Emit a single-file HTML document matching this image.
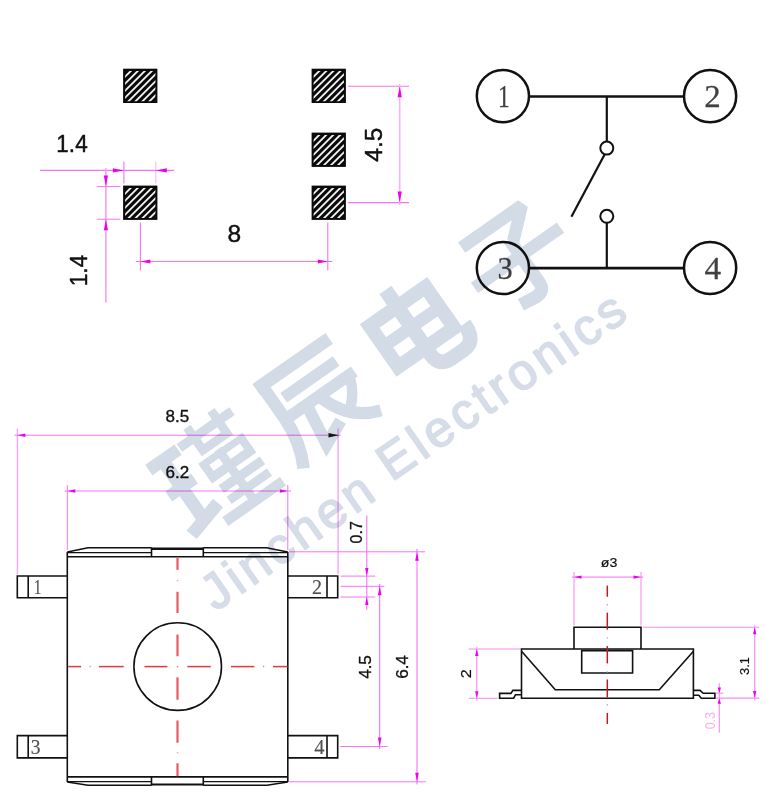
<!DOCTYPE html>
<html><head><meta charset="utf-8"><title>drawing</title>
<style>
html,body{margin:0;padding:0;background:#fff;}
body{width:772px;height:809px;overflow:hidden;font-family:"Liberation Sans",sans-serif;}
svg{display:block;will-change:transform}
</style></head><body>
<svg width="772" height="809" viewBox="0 0 772 809">
<rect width="772" height="809" fill="#fff"/>
<clipPath id="cp1"><rect x="125.1" y="71.10000000000001" width="30.299999999999997" height="30.099999999999998"/></clipPath>
<rect x="123.1" y="68.7" width="34.3" height="34.3" fill="#0a0a0a"/>
<g clip-path="url(#cp1)" stroke="#f4f4f4" stroke-width="1.85">
<line x1="121.10" y1="80.70" x2="159.40" y2="42.40"/>
<line x1="121.10" y1="87.70" x2="159.40" y2="49.40"/>
<line x1="121.10" y1="94.70" x2="159.40" y2="56.40"/>
<line x1="121.10" y1="101.70" x2="159.40" y2="63.40"/>
<line x1="121.10" y1="108.70" x2="159.40" y2="70.40"/>
<line x1="121.10" y1="115.70" x2="159.40" y2="77.40"/>
<line x1="121.10" y1="122.70" x2="159.40" y2="84.40"/>
<line x1="121.10" y1="129.70" x2="159.40" y2="91.40"/>
<line x1="121.10" y1="136.70" x2="159.40" y2="98.40"/>
</g>
<clipPath id="cp2"><rect x="125.1" y="188.0" width="30.299999999999997" height="30.099999999999998"/></clipPath>
<rect x="123.1" y="185.6" width="34.3" height="34.3" fill="#0a0a0a"/>
<g clip-path="url(#cp2)" stroke="#f4f4f4" stroke-width="1.85">
<line x1="121.10" y1="197.60" x2="159.40" y2="159.30"/>
<line x1="121.10" y1="204.60" x2="159.40" y2="166.30"/>
<line x1="121.10" y1="211.60" x2="159.40" y2="173.30"/>
<line x1="121.10" y1="218.60" x2="159.40" y2="180.30"/>
<line x1="121.10" y1="225.60" x2="159.40" y2="187.30"/>
<line x1="121.10" y1="232.60" x2="159.40" y2="194.30"/>
<line x1="121.10" y1="239.60" x2="159.40" y2="201.30"/>
<line x1="121.10" y1="246.60" x2="159.40" y2="208.30"/>
<line x1="121.10" y1="253.60" x2="159.40" y2="215.30"/>
</g>
<clipPath id="cp3"><rect x="313.6" y="71.10000000000001" width="30.299999999999997" height="30.099999999999998"/></clipPath>
<rect x="311.6" y="68.7" width="34.3" height="34.3" fill="#0a0a0a"/>
<g clip-path="url(#cp3)" stroke="#f4f4f4" stroke-width="1.85">
<line x1="309.60" y1="80.70" x2="347.90" y2="42.40"/>
<line x1="309.60" y1="87.70" x2="347.90" y2="49.40"/>
<line x1="309.60" y1="94.70" x2="347.90" y2="56.40"/>
<line x1="309.60" y1="101.70" x2="347.90" y2="63.40"/>
<line x1="309.60" y1="108.70" x2="347.90" y2="70.40"/>
<line x1="309.60" y1="115.70" x2="347.90" y2="77.40"/>
<line x1="309.60" y1="122.70" x2="347.90" y2="84.40"/>
<line x1="309.60" y1="129.70" x2="347.90" y2="91.40"/>
<line x1="309.60" y1="136.70" x2="347.90" y2="98.40"/>
</g>
<clipPath id="cp4"><rect x="313.6" y="135.0" width="30.299999999999997" height="30.099999999999998"/></clipPath>
<rect x="311.6" y="132.6" width="34.3" height="34.3" fill="#0a0a0a"/>
<g clip-path="url(#cp4)" stroke="#f4f4f4" stroke-width="1.85">
<line x1="309.60" y1="144.60" x2="347.90" y2="106.30"/>
<line x1="309.60" y1="151.60" x2="347.90" y2="113.30"/>
<line x1="309.60" y1="158.60" x2="347.90" y2="120.30"/>
<line x1="309.60" y1="165.60" x2="347.90" y2="127.30"/>
<line x1="309.60" y1="172.60" x2="347.90" y2="134.30"/>
<line x1="309.60" y1="179.60" x2="347.90" y2="141.30"/>
<line x1="309.60" y1="186.60" x2="347.90" y2="148.30"/>
<line x1="309.60" y1="193.60" x2="347.90" y2="155.30"/>
<line x1="309.60" y1="200.60" x2="347.90" y2="162.30"/>
</g>
<clipPath id="cp5"><rect x="313.6" y="188.0" width="30.299999999999997" height="30.099999999999998"/></clipPath>
<rect x="311.6" y="185.6" width="34.3" height="34.3" fill="#0a0a0a"/>
<g clip-path="url(#cp5)" stroke="#f4f4f4" stroke-width="1.85">
<line x1="309.60" y1="197.60" x2="347.90" y2="159.30"/>
<line x1="309.60" y1="204.60" x2="347.90" y2="166.30"/>
<line x1="309.60" y1="211.60" x2="347.90" y2="173.30"/>
<line x1="309.60" y1="218.60" x2="347.90" y2="180.30"/>
<line x1="309.60" y1="225.60" x2="347.90" y2="187.30"/>
<line x1="309.60" y1="232.60" x2="347.90" y2="194.30"/>
<line x1="309.60" y1="239.60" x2="347.90" y2="201.30"/>
<line x1="309.60" y1="246.60" x2="347.90" y2="208.30"/>
<line x1="309.60" y1="253.60" x2="347.90" y2="215.30"/>
</g>
<line x1="40" y1="170.4" x2="174" y2="170.4" stroke="#f472f4" stroke-width="1.1" />
<line x1="123.9" y1="161.5" x2="123.9" y2="183.5" stroke="#f472f4" stroke-width="1.1" />
<line x1="155.8" y1="161.5" x2="155.8" y2="183.5" stroke="#f472f4" stroke-width="1.0" opacity="0.55"/>
<polygon points="123.9,170.4 112.9,168.3 112.9,172.5" fill="#ee00ee"/>
<polygon points="155.8,170.4 166.8,168.3 166.8,172.5" fill="#ee00ee"/>
<text x="0" y="0" font-family="Liberation Sans" font-size="24.5" fill="#111" stroke="#111" stroke-width="0.45" stroke-linejoin="round" text-anchor="middle" transform="translate(72 152.3) scale(0.92 1)" >1.4</text>
<line x1="105.9" y1="168.3" x2="105.9" y2="302.4" stroke="#f59af5" stroke-width="1.5" />
<line x1="96.8" y1="186.6" x2="120.4" y2="186.6" stroke="#f472f4" stroke-width="1.0" />
<line x1="96.8" y1="219.2" x2="120.4" y2="219.2" stroke="#f472f4" stroke-width="1.0" />
<polygon points="105.9,186.6 103.80000000000001,175.6 108.0,175.6" fill="#ee00ee"/>
<polygon points="105.9,219.2 103.80000000000001,230.2 108.0,230.2" fill="#ee00ee"/>
<text x="0" y="0" font-family="Liberation Sans" font-size="24.5" fill="#111" stroke="#111" stroke-width="0.45" stroke-linejoin="round" text-anchor="middle" transform="translate(87.4 270.5) rotate(-90) scale(0.92 1)" >1.4</text>
<line x1="140.4" y1="222.5" x2="140.4" y2="270.4" stroke="#f472f4" stroke-width="1.1" />
<line x1="327.8" y1="222.5" x2="327.8" y2="270.4" stroke="#f472f4" stroke-width="1.1" />
<line x1="135.8" y1="261.5" x2="332.4" y2="261.5" stroke="#f472f4" stroke-width="1.1" />
<polygon points="140.4,261.5 150.4,259.4 150.4,263.6" fill="#ee00ee"/>
<polygon points="327.8,261.5 317.8,259.4 317.8,263.6" fill="#ee00ee"/>
<text x="0" y="0" font-family="Liberation Sans" font-size="24.5" fill="#111" stroke="#111" stroke-width="0.45" stroke-linejoin="round" text-anchor="middle" transform="translate(234.3 242.2)" >8</text>
<line x1="348" y1="86.3" x2="409" y2="86.3" stroke="#f472f4" stroke-width="1.1" />
<line x1="348" y1="202.6" x2="409" y2="202.6" stroke="#f472f4" stroke-width="1.1" />
<line x1="399.7" y1="84" x2="399.7" y2="205" stroke="#f8b2f8" stroke-width="1.6" />
<polygon points="399.7,86.3 397.59999999999997,97.3 401.8,97.3" fill="#ee00ee"/>
<polygon points="399.7,202.6 397.59999999999997,191.6 401.8,191.6" fill="#ee00ee"/>
<text x="0" y="0" font-family="Liberation Sans" font-size="24.5" fill="#111" stroke="#111" stroke-width="0.45" stroke-linejoin="round" text-anchor="middle" transform="translate(381.6 144.6) rotate(-90)" >4.5</text>
<circle cx="502.9" cy="96.1" r="26.1" fill="none" stroke="#111" stroke-width="2.5"/>
<text x="0" y="0" font-family="Liberation Serif" font-size="32" fill="#404040" stroke="#404040" stroke-width="0.25" stroke-linejoin="round" text-anchor="middle" transform="translate(503.79999999999995 107.3) scale(0.73 1)" >1</text>
<circle cx="710.1" cy="96.2" r="26.1" fill="none" stroke="#111" stroke-width="2.5"/>
<text x="0" y="0" font-family="Liberation Serif" font-size="32" fill="#404040" stroke="#404040" stroke-width="0.25" stroke-linejoin="round" text-anchor="middle" transform="translate(712.5 107.4) scale(1.03 1)" >2</text>
<circle cx="502.9" cy="268.0" r="26.1" fill="none" stroke="#111" stroke-width="2.5"/>
<text x="0" y="0" font-family="Liberation Serif" font-size="32" fill="#404040" stroke="#404040" stroke-width="0.25" stroke-linejoin="round" text-anchor="middle" transform="translate(505.09999999999997 279.2) scale(0.95 1)" >3</text>
<circle cx="710.1" cy="268.0" r="26.1" fill="none" stroke="#111" stroke-width="2.5"/>
<text x="0" y="0" font-family="Liberation Serif" font-size="32" fill="#404040" stroke="#404040" stroke-width="0.25" stroke-linejoin="round" text-anchor="middle" transform="translate(712.7 279.2) scale(1.04 1)" >4</text>
<line x1="529" y1="96.5" x2="684" y2="96.5" stroke="#111" stroke-width="2.6" />
<line x1="529" y1="268.1" x2="684" y2="268.1" stroke="#111" stroke-width="2.6" />
<line x1="606.8" y1="96.5" x2="606.8" y2="141.5" stroke="#111" stroke-width="2.2" />
<line x1="606.8" y1="223" x2="606.8" y2="268.1" stroke="#111" stroke-width="2.2" />
<circle cx="606.8" cy="148.1" r="6.5" fill="#fff" stroke="#111" stroke-width="2"/>
<circle cx="606.8" cy="216.3" r="6.5" fill="#fff" stroke="#111" stroke-width="2"/>
<line x1="604.6" y1="154.5" x2="571.4" y2="216.8" stroke="#111" stroke-width="2.2" />
<line x1="17.4" y1="428.6" x2="17.4" y2="574" stroke="#f6a6f6" stroke-width="1.4" />
<line x1="338.1" y1="428.5" x2="338.1" y2="574" stroke="#f6a6f6" stroke-width="1.4" />
<line x1="14.5" y1="435.2" x2="340.5" y2="435.2" stroke="#f472f4" stroke-width="1.0" />
<polygon points="17.4,435.2 25.4,433.4 25.4,437.0" fill="#ee00ee"/>
<polygon points="339,435.2 328.5,433.0 328.5,437.4" fill="#1a1a1a"/>
<text x="0" y="0" font-family="Liberation Sans" font-size="17" fill="#111" stroke="#111" stroke-width="0.35" stroke-linejoin="round" text-anchor="middle" transform="translate(177.3 422.3)" >8.5</text>
<line x1="67.3" y1="485" x2="67.3" y2="550" stroke="#f472f4" stroke-width="1.0" />
<line x1="287.8" y1="485" x2="287.8" y2="550" stroke="#f472f4" stroke-width="1.0" />
<line x1="64.5" y1="491" x2="291" y2="491" stroke="#f472f4" stroke-width="1.0" />
<polygon points="67.3,491 75.3,489.2 75.3,492.8" fill="#ee00ee"/>
<polygon points="287.8,491 279.8,489.2 279.8,492.8" fill="#ee00ee"/>
<text x="0" y="0" font-family="Liberation Sans" font-size="17" fill="#111" stroke="#111" stroke-width="0.35" stroke-linejoin="round" text-anchor="middle" transform="translate(177.3 478)" >6.2</text>
<line x1="288.8" y1="551.8" x2="425" y2="551.8" stroke="#f472f4" stroke-width="1.0" />
<line x1="288.8" y1="781.8" x2="425.8" y2="781.8" stroke="#f472f4" stroke-width="1.0" />
<line x1="417" y1="549" x2="417" y2="784.6" stroke="#f472f4" stroke-width="1.1" />
<polygon points="417,551.8 415.2,560.8 418.8,560.8" fill="#ee00ee"/>
<polygon points="417,781.8 415.2,772.8 418.8,772.8" fill="#ee00ee"/>
<text x="0" y="0" font-family="Liberation Sans" font-size="17" fill="#111" stroke="#111" stroke-width="0.35" stroke-linejoin="round" text-anchor="middle" transform="translate(407.5 667) rotate(-90)" >6.4</text>
<line x1="340.6" y1="586.3" x2="384.3" y2="586.3" stroke="#f472f4" stroke-width="1.0" />
<line x1="340.3" y1="746.5" x2="387.6" y2="746.5" stroke="#f472f4" stroke-width="1.0" />
<line x1="379.7" y1="584" x2="379.7" y2="749" stroke="#f472f4" stroke-width="1.1" />
<polygon points="379.7,586.3 377.9,595.3 381.5,595.3" fill="#ee00ee"/>
<polygon points="379.7,746.5 377.9,737.5 381.5,737.5" fill="#ee00ee"/>
<text x="0" y="0" font-family="Liberation Sans" font-size="17" fill="#111" stroke="#111" stroke-width="0.35" stroke-linejoin="round" text-anchor="middle" transform="translate(370.5 667) rotate(-90)" >4.5</text>
<line x1="340.6" y1="576.1" x2="375.2" y2="576.1" stroke="#f472f4" stroke-width="1.0" />
<line x1="340.6" y1="597" x2="375.2" y2="597" stroke="#f472f4" stroke-width="1.0" />
<line x1="366.8" y1="515.6" x2="366.8" y2="609.8" stroke="#f472f4" stroke-width="1.1" />
<polygon points="366.8,576.1 365.1,568.1 368.5,568.1" fill="#ee00ee"/>
<polygon points="366.8,597 365.1,605 368.5,605" fill="#ee00ee"/>
<text x="0" y="0" font-family="Liberation Sans" font-size="16" fill="#111" stroke="#111" stroke-width="0.3" stroke-linejoin="round" text-anchor="middle" transform="translate(362.3 532.3) rotate(-90)" >0.7</text>
<g fill="none" stroke="#111" stroke-width="1.6">
<path d="M67.3,552 L67.3,782 M287.8,552 L287.8,782"/>
<path d="M67.3,552 L88,547.8 L151.5,547.8 M203.3,547.8 L266.5,547.8 L287.8,552"/>
<path d="M67.3,552.7 L151.5,552.7 M203.3,552.7 L287.8,552.7" stroke-width="1.2"/>
<path d="M67.3,556.8 L287.8,556.8"/>
<path d="M151.5,547.5 L151.5,556.8 M203.3,547.5 L203.3,556.8"/>
<path d="M151.5,548.8 L203.3,548.8" stroke-width="2.4"/>
<path d="M67.3,782 L88,785.2 L151.5,785.2 M203.3,785.2 L267,785.2 L287.8,782"/>
<path d="M67.3,781.6 L151.5,781.6 M203.3,781.6 L287.8,781.6" stroke-width="1.2"/>
<path d="M67.3,776.9 L287.8,776.9"/>
<path d="M151.5,776.9 L151.5,785.5 M203.3,776.9 L203.3,785.5"/>
<path d="M151.5,784.5 L203.3,784.5" stroke-width="2.2"/>
<path d="M67.3,576 L17.3,576 L17.3,597.8 L67.3,597.8 M28.2,576 L28.2,597.8"/>
<path d="M67.3,735.6 L17.3,735.6 L17.3,757.9 L67.3,757.9 M28.2,735.6 L28.2,757.9"/>
<path d="M287.8,576 L337.7,576 L337.7,597.8 L287.8,597.8 M327,576 L327,597.8"/>
<path d="M287.8,735.6 L337.7,735.6 L337.7,757.9 L287.8,757.9 M327,735.6 L327,757.9"/>
<circle cx="177.7" cy="666.6" r="43.8"/>
</g>
<text x="0" y="0" font-family="Liberation Serif" font-size="20.5" fill="#505050" stroke="#505050" stroke-width="0.15" stroke-linejoin="round" text-anchor="middle" transform="translate(37.6 594.4) scale(0.76 1)" >1</text>
<text x="0" y="0" font-family="Liberation Serif" font-size="20.5" fill="#505050" stroke="#505050" stroke-width="0.15" stroke-linejoin="round" text-anchor="middle" transform="translate(317 594.4) scale(0.98 1)" >2</text>
<text x="0" y="0" font-family="Liberation Serif" font-size="20.5" fill="#505050" stroke="#505050" stroke-width="0.15" stroke-linejoin="round" text-anchor="middle" transform="translate(35.5 753.6) scale(0.95 1)" >3</text>
<text x="0" y="0" font-family="Liberation Serif" font-size="20.5" fill="#505050" stroke="#505050" stroke-width="0.15" stroke-linejoin="round" text-anchor="middle" transform="translate(319.3 753.6)" >4</text>
<g stroke="#e75a61" stroke-width="2.2">
<line x1="177.5" y1="557.5" x2="177.5" y2="569.8"/>
<line x1="177.5" y1="591.8" x2="177.5" y2="613"/>
<line x1="177.5" y1="634.6" x2="177.5" y2="656.2"/>
<line x1="177.5" y1="677.3" x2="177.5" y2="699.7"/>
<line x1="177.5" y1="720.5" x2="177.5" y2="742.7"/>
<line x1="177.5" y1="763.3" x2="177.5" y2="776.2"/>
</g>
<g stroke="#f0a0a4" stroke-width="1.6">
<line x1="177.5" y1="580" x2="177.5" y2="581.2"/>
<line x1="177.5" y1="666.1" x2="177.5" y2="667.3"/>
<line x1="177.5" y1="752.2" x2="177.5" y2="753.4"/>
</g>
<g stroke="#e2383e" stroke-width="1.5">
<line x1="68.2" y1="666.6" x2="81.1" y2="666.6"/>
<line x1="98.9" y1="666.6" x2="123.7" y2="666.6"/>
<line x1="144.5" y1="666.6" x2="167.4" y2="666.6"/>
<line x1="187.4" y1="666.6" x2="210.8" y2="666.6"/>
<line x1="231" y1="666.6" x2="254.3" y2="666.6"/>
<line x1="273" y1="666.6" x2="287.5" y2="666.6"/>
</g>
<g stroke="#ec8086" stroke-width="1.5">
<line x1="89.6" y1="666.6" x2="90.8" y2="666.6"/>
<line x1="176.9" y1="666.6" x2="178.1" y2="666.6"/>
<line x1="263" y1="666.6" x2="264.2" y2="666.6"/>
</g>
<line x1="574" y1="572" x2="574" y2="625.3" stroke="#f48cf4" stroke-width="1.05" />
<line x1="641" y1="572" x2="641" y2="625.3" stroke="#f48cf4" stroke-width="1.05" />
<line x1="571.8" y1="577.1" x2="643.2" y2="577.1" stroke="#f48cf4" stroke-width="1.05" />
<polygon points="574,577.1 581.5,575.4 581.5,578.8000000000001" fill="#ee00ee"/>
<polygon points="641,577.1 633.5,575.4 633.5,578.8000000000001" fill="#ee00ee"/>
<text x="0" y="0" font-family="Liberation Sans" font-size="13.5" fill="#111" stroke="#111" stroke-width="0.2" stroke-linejoin="round" text-anchor="middle" transform="translate(609 567.3) scale(1.05 1)" >ø3</text>
<line x1="468.7" y1="649" x2="520.6" y2="649" stroke="#f48cf4" stroke-width="1.05" />
<line x1="468.7" y1="698.3" x2="497.6" y2="698.3" stroke="#f48cf4" stroke-width="1.05" />
<line x1="476.8" y1="647" x2="476.8" y2="700.5" stroke="#f59af5" stroke-width="1.3" />
<polygon points="476.8,649 475.1,656 478.5,656" fill="#ee00ee"/>
<polygon points="476.8,698.3 475.1,691.3 478.5,691.3" fill="#ee00ee"/>
<text x="0" y="0" font-family="Liberation Sans" font-size="14.5" fill="#111" stroke="#111" stroke-width="0.2" stroke-linejoin="round" text-anchor="middle" transform="translate(471.3 673.7) rotate(-90) scale(1.12 1)" >2</text>
<line x1="643" y1="627.2" x2="759.4" y2="627.2" stroke="#f48cf4" stroke-width="1.05" />
<line x1="716.2" y1="698.1" x2="759.4" y2="698.1" stroke="#f48cf4" stroke-width="1.05" />
<line x1="754.7" y1="625.2" x2="754.7" y2="700.2" stroke="#f59af5" stroke-width="1.3" />
<polygon points="754.7,627.2 753.0,634.2 756.4000000000001,634.2" fill="#ee00ee"/>
<polygon points="754.7,698.1 753.0,691.1 756.4000000000001,691.1" fill="#ee00ee"/>
<text x="0" y="0" font-family="Liberation Sans" font-size="12.8" fill="#111" stroke="#111" stroke-width="0.2" stroke-linejoin="round" text-anchor="middle" transform="translate(749.2 666) rotate(-90)" >3.1</text>
<line x1="719.3" y1="683.3" x2="719.3" y2="732.7" stroke="#f59af5" stroke-width="1.3" />
<line x1="716" y1="693.2" x2="723.5" y2="693.2" stroke="#f48cf4" stroke-width="1.05" />
<polygon points="719.3,693.0 717.5999999999999,687.5 721.0,687.5" fill="#ee00ee"/>
<polygon points="719.3,698.3 717.5999999999999,703.8 721.0,703.8" fill="#ee00ee"/>
<text x="0" y="0" font-family="Liberation Sans" font-size="14.5" fill="#f4b2ea" text-anchor="middle" transform="translate(715.3 720.7) rotate(-90) scale(0.86 1)" >0.3</text>
<g fill="none" stroke="#111" stroke-width="1.6">
<path d="M521.5,649 L693.4,649 L693.4,698.2 L521.5,698.2 Z"/>
<path d="M574,649 L574,627.3 L641,627.3 L641,649"/>
<path d="M581.7,650.6 L581.7,673 L632.6,673 L632.6,650.6 Z"/>
<path d="M521.8,651.5 L555.3,689.7 L659.3,689.7 L693.2,651.5"/>
<path d="M521.5,690.4 L512.9,690.4 L510.9,693.4 L499.6,693.4 L499.6,698.2 L513.6,698.2 L515.5,694.8 L521.5,694.8"/>
<path d="M693.4,690.4 L700,690.4 L703.2,693.3 L714.9,693.3 L714.9,698.2 L701.3,698.2 L698.8,695.2 L693.4,695.2"/>
</g>
<g stroke="#b81f24" stroke-width="1.5">
<line x1="607.3" y1="585.6" x2="607.3" y2="596.7"/>
<line x1="607.3" y1="612.6" x2="607.3" y2="629.7"/>
<line x1="607.3" y1="646.1" x2="607.3" y2="663.4"/>
<line x1="607.3" y1="679.5" x2="607.3" y2="697.4"/>
<line x1="607.3" y1="712.9" x2="607.3" y2="724"/>
</g>
<g stroke="#dc8a8c" stroke-width="1.4">
<line x1="607.3" y1="604.1999999999999" x2="607.3" y2="605.4"/>
<line x1="607.3" y1="637.4" x2="607.3" y2="638.6"/>
<line x1="607.3" y1="671.4" x2="607.3" y2="672.6"/>
<line x1="607.3" y1="704.1999999999999" x2="607.3" y2="705.4"/>
</g>
<filter id="wb" x="-5%" y="-5%" width="110%" height="110%"><feGaussianBlur stdDeviation="0.7"/></filter>
<g style="mix-blend-mode:multiply" filter="url(#wb)">
<g transform="translate(222 472) rotate(-35) scale(1.05) translate(-50 -50)" fill="none" stroke="#d3dbe6" stroke-linecap="butt" stroke-linejoin="miter">
<path d="M-6,8.5 L28,8.5" stroke-width="12"/>
<path d="M-5,40 L25,40" stroke-width="11.5"/>
<path d="M10,8.5 L10,76" stroke-width="12.5"/>
<path d="M-8,82.5 L30,72" stroke-width="12.5"/>
<path d="M30,8 L91,8" stroke-width="9"/>
<path d="M47,-4 L47,22.5 L75,22.5 L75,-4" stroke-width="8.5"/>
<path d="M36,34 L87.5,34" stroke-width="7"/>
<path d="M36,49 L87.5,49" stroke-width="9"/>
<path d="M40,34 L40,49 M83.5,34 L83.5,49" stroke-width="8"/>
<path d="M59.5,30 L59.5,90" stroke-width="8.5"/>
<path d="M40,63 L88,63" stroke-width="9"/>
<path d="M40,76 L87,76" stroke-width="8.5"/>
<path d="M25.5,90.5 L92.5,90.5" stroke-width="10"/>
</g>
<g transform="translate(315 404) rotate(-35) scale(1.05) translate(-50 -50)" fill="none" stroke="#d3dbe6" stroke-linecap="butt" stroke-linejoin="miter">
<path d="M12,6.5 L97,6.5" stroke-width="12.5"/>
<path d="M18.5,2 L18.5,45 Q18,72 6,94" stroke-width="12"/>
<path d="M29,28 L90,28" stroke-width="11"/>
<path d="M22,46 L98.5,46" stroke-width="11.5"/>
<path d="M43,46 L37,88 L61,77" stroke-width="11.5"/>
<path d="M91,50 Q87,62 76,72" stroke-width="10"/>
<path d="M58,48 Q68,81 98,91" stroke-width="11.5"/>
</g>
<g transform="translate(408 335) rotate(-35) scale(1.05) translate(-50 -50)" fill="none" stroke="#d3dbe6" stroke-linecap="butt" stroke-linejoin="miter">
<path d="M25,22 L90,22 L90,69.5 L25,69.5 Z" stroke-width="13.5"/>
<path d="M25,45.7 L90,45.7" stroke-width="12"/>
<path d="M57,2.5 L57,78 Q57,92 71,92 L86,92 Q100,92 100,72" stroke-width="14"/>
</g>
<g transform="translate(512 261) rotate(-35) scale(1.05) translate(-50 -50)" fill="none" stroke="#d3dbe6" stroke-linecap="butt" stroke-linejoin="miter">
<path d="M18,12 L88,12 L62,35" stroke-linejoin="bevel" stroke-width="12"/>
<path d="M59.5,32 L59.5,82 Q59.5,92 48,91 L33,89" stroke-width="12.5"/>
<path d="M6,50.5 L106,50.5" stroke-width="12"/>
</g>
<text x="0" y="0" transform="translate(215.5 612) rotate(-35)" font-family="Liberation Sans" font-size="50.5" fill="#d6dde8" stroke="#d6dde8" stroke-width="1.7" stroke-linejoin="round" lengthAdjust="spacing" textLength="198">Jinchen</text>
<text x="0" y="0" transform="translate(391.8 482) rotate(-34.6)" font-family="Liberation Sans" font-size="50.5" fill="#d6dde8" stroke="#d6dde8" stroke-width="1.7" stroke-linejoin="round" lengthAdjust="spacing" textLength="289">Electronics</text>
</g>
</svg>
</body></html>
